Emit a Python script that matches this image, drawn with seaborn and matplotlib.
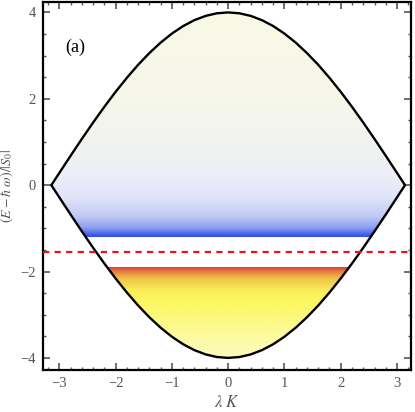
import numpy as np
import matplotlib
matplotlib.use("Agg")
import matplotlib.pyplot as plt
import seaborn as sns
import pandas as pd
from matplotlib.colors import LinearSegmentedColormap
from matplotlib.ticker import MultipleLocator

# ---- data ----
lam_k = [-3.1416, -3.0, -2.8, -2.6, -2.4, -2.2, -2.0, -1.8, -1.6, -1.4, -1.2, -1.0,
         -0.8, -0.6, -0.4, -0.2, 0.0, 0.2, 0.4, 0.6, 0.8, 1.0, 1.2, 1.4, 1.6, 1.8,
         2.0, 2.2, 2.4, 2.6, 2.8, 3.0, 3.1416]
upper_edge = [0.0, 0.283, 0.680, 1.070, 1.449, 1.814, 2.161, 2.486, 2.787, 3.059,
              3.301, 3.510, 3.684, 3.821, 3.920, 3.980, 4.0, 3.980, 3.920, 3.821,
              3.684, 3.510, 3.301, 3.059, 2.787, 2.486, 2.161, 1.814, 1.449, 1.070,
              0.680, 0.283, 0.0]
lower_edge = [-v for v in upper_edge]
blue_band_bottom = -1.2     # lower end of the upper (blue) filled band
red_band_top = -1.9         # upper end of the lower (red/yellow) filled band
dashed_level = -1.55        # red dashed line
x_ticks = [-3, -2, -1, 0, 1, 2, 3]
y_ticks = [-4, -2, 0, 2, 4]
panel_label = "(a)"

sns.set_theme(style="white")
plt.rcParams["font.family"] = ["Liberation Serif", "DejaVu Serif"]
plt.rcParams["mathtext.fontset"] = "stix"

fig = plt.figure(figsize=(4.15, 4.12), dpi=100)
ax = fig.add_axes([0.1036, 0.102, 0.887, 0.893])
xlim = (-3.29, 3.25)
ylim = (-4.28, 4.24)

# gradient colormaps
upper_cmap = LinearSegmentedColormap.from_list("up", [
    (0.0, "#3050e8"),
    (0.04, "#90a0f0"),
    (0.09, "#c0c8f4"),
    (0.17, "#e0e4f8"),
    (0.27, "#eeeefa"),
    (0.38, "#f0f2f2"),
    (0.6, "#f6f7ea"),
    (1.0, "#f8f9e6"),
])
lower_cmap = LinearSegmentedColormap.from_list("low", [
    (0.0, "#fdfcc0"),
    (0.3, "#fcfa98"),
    (0.6, "#fcf862"),
    (0.75, "#f8ee58"),
    (0.88, "#f0c048"),
    (0.95, "#e88040"),
    (1.0, "#d04838"),
])

xa = np.array(lam_k)
ua = np.array(upper_edge)
la = np.array(lower_edge)

# lens shaped region between the two edges (used as clip path)
lens = ax.fill_between(xa, la, ua, color="none", lw=0)
lens_path = lens.get_paths()[0]
grad = np.linspace(0, 1, 400).reshape(-1, 1)

im_u = ax.imshow(grad, cmap=upper_cmap, origin="lower", aspect="auto",
                 extent=[xlim[0], xlim[1], blue_band_bottom, 4.0], zorder=1,
                 interpolation="bilinear")
im_u.set_clip_path(lens_path, transform=ax.transData)

im_l = ax.imshow(grad, cmap=lower_cmap, origin="lower", aspect="auto",
                 extent=[xlim[0], xlim[1], -4.0, red_band_top], zorder=1,
                 interpolation="bilinear")
im_l.set_clip_path(lens_path, transform=ax.transData)

# boundary curves
df = pd.DataFrame({"x": lam_k * 2, "y": upper_edge + lower_edge,
                   "part": ["upper"] * len(lam_k) + ["lower"] * len(lam_k)})
sns.lineplot(data=df, x="x", y="y", units="part", estimator=None, sort=False,
             color="black", lw=1.7, ax=ax, zorder=3)

ax.axhline(dashed_level, color="#e8141c", lw=1.6, ls=(0, (2.8, 2.4)), zorder=4)

ax.text(-2.72, 3.2, panel_label, fontsize=13, color="black",
        ha="center", va="center")

ax.set_xlim(*xlim)
ax.set_ylim(*ylim)
ax.set_xticks(x_ticks)
ax.set_yticks(y_ticks)
ax.set_xticklabels(["\u22123", "\u22122", "\u22121", "0", "1", "2", "3"])
ax.set_yticklabels(["\u22124", "\u22122", "0", "2", "4"])
ax.xaxis.set_minor_locator(MultipleLocator(0.2))
ax.yaxis.set_minor_locator(MultipleLocator(0.5))
ax.tick_params(which="both", direction="in", top=True, right=True,
               bottom=True, left=True, color="#555555", labelcolor="#555555",
               labelsize=10.5)
ax.tick_params(which="major", length=5, width=1.2, pad=5)
ax.tick_params(which="minor", length=2.5, width=1.0)
for s in ax.spines.values():
    s.set_visible(True)
    s.set_color("black")
    s.set_linewidth(1.6)

ax.set_xlabel(r"$\lambda\ K$", fontsize=12, color="#555555")
ax.xaxis.set_label_coords(0.5, -0.068)
ax.set_ylabel(r"$(E-\hbar\ \omega)/|S_0|$", fontsize=10, color="#555555")
ax.yaxis.set_label_coords(-0.072, 0.5)

fig.savefig("out.png", dpi=100)
